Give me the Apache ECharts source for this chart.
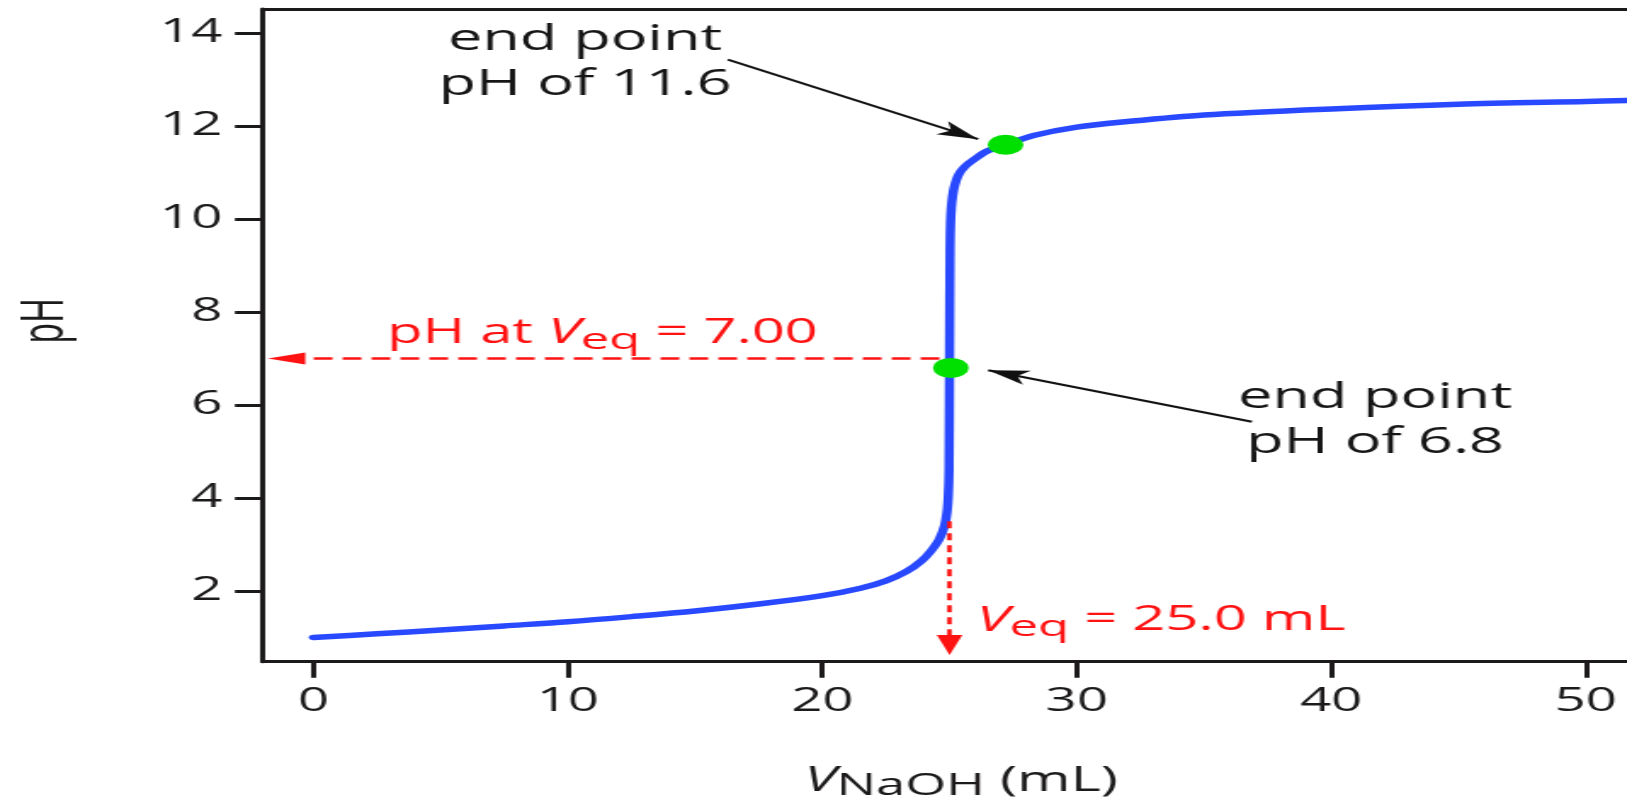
<!DOCTYPE html>
<html>
<head>
<meta charset="utf-8">
<script src="https://cdn.jsdelivr.net/npm/echarts@6/dist/echarts.min.js"></script>
<style>
html,body{margin:0;padding:0;background:#fff;overflow:hidden;width:1627px;height:797px;}
#chart{position:absolute;left:0;top:0;height:797px;transform-origin:0 0;}
</style>
</head>
<body>
<div id="chart"></div>
<script>
// ---------------- data ----------------
const volumes = [0, 2.5, 5, 7.5, 10, 12.5, 15, 17.5, 20, 21.5, 22.5, 23.3, 23.9, 24.3,
  24.6, 24.8, 24.9, 24.95, 24.98, 25.0, 25.02, 25.04, 25.07, 25.12, 25.2, 25.35, 25.6,
  26.0, 26.5, 27.2, 28.3, 30, 32, 35, 40, 45, 50, 51.6];
const pHValues = [1.00, 1.08, 1.16, 1.25, 1.34, 1.45, 1.57, 1.72, 1.90, 2.06, 2.22, 2.42, 2.65, 2.88,
  3.12, 3.40, 3.70, 4.05, 4.60, 7.00, 9.40, 9.95, 10.25, 10.50, 10.72, 10.95, 11.13,
  11.30, 11.47, 11.60, 11.80, 11.98, 12.10, 12.24, 12.37, 12.47, 12.53, 12.55];
const endPointVolumes = [27.2, 25.05];
const endPointPH = [11.6, 6.8];
const xTickValues = [0, 10, 20, 30, 40, 50];
const yTickValues = [2, 4, 6, 8, 10, 12, 14];
const equivalenceVolume = 25.0;
const equivalencePH = 7.0;

// ---------------- layout ----------------
const S = 1.7;                 // the reference picture is stretched horizontally
const W = 1627 / S, H = 797;
const el = document.getElementById('chart');
el.style.width = W + 'px';
el.style.transform = 'scaleX(' + S + ')';
const chart = echarts.init(el, null, {renderer: 'canvas', width: W, height: H});

const FONT = '"Open Sans", "DejaVu Sans", sans-serif';
const INK = '#1c1a1b';
const BLUE = '#2849ff';
const GREEN = '#00e000';
const RED = '#ff1212';

// annotation geometry (data coordinates)
const arrows = [
  {from: [16.29, 13.43], to: [26.12, 11.72], color: '#111', width: 2, dash: 'solid', symbol: 'arrow', size: [11, 24]},
  {from: [36.88, 5.64], to: [26.52, 6.75], color: '#111', width: 2, dash: 'solid', symbol: 'arrow', size: [11, 24]},
  {from: [24.6, equivalencePH], to: [-1.05, equivalencePH], color: RED, width: 2.5, dash: [11, 6], symbol: 'triangle', size: [12, 22]},
  {from: [equivalenceVolume, 3.5], to: [equivalenceVolume, 0.84], color: RED, width: 2.6, dash: [7, 5], symbol: 'triangle', size: [15, 20]}
];
const notes = [
  {text: 'end point\npH of 11.6', at: [10.68, 13.37]},
  {text: 'end point\npH of 6.8', at: [41.72, 5.67]}
];
const redNotes = [
  {text: '{n|pH at }{v|V}{s|eq}{n| = 7.00}', at: [11.36, 7.54]},
  {text: '{v|V}{s|eq}{n| = 25.0 mL}', at: [33.31, 1.36]}
];

function build() {
  const curve = volumes.map((v, i) => [v, pHValues[i]]);
  const dots = endPointVolumes.map((v, i) => [v, endPointPH[i]]);
  const series = [
    {
      type: 'line', name: 'titration', data: curve, showSymbol: false, symbol: 'none',
      smooth: 0.3, silent: true, z: 3,
      lineStyle: {color: BLUE, width: 5.5, cap: 'round', join: 'round'}
    },
    {
      type: 'scatter', name: 'end points', data: dots, symbol: 'circle', symbolSize: [21, 20],
      itemStyle: {color: GREEN, opacity: 1}, silent: true, z: 5
    }
  ];
  arrows.forEach((a, k) => {
    series.push({
      type: 'line', name: 'arrow' + k, data: [], silent: true, z: 4,
      markLine: {
        silent: true, animation: false,
        symbol: ['none', a.symbol], symbolSize: a.size,
        label: {show: false}, emphasis: {disabled: true},
        itemStyle: {color: a.color},
        lineStyle: {color: a.color, width: a.width, type: a.dash, opacity: 1, cap: 'butt'},
        data: [[{coord: a.from}, {coord: a.to}]]
      }
    });
  });

  const option = {
    animation: false,
    backgroundColor: '#ffffff',
    grid: {left: 263 / S, right: 0, top: 9, bottom: 135.3, containLabel: false, outerBoundsMode: 'none'},
    xAxis: [
      {
        type: 'value', position: 'bottom', min: -1.976, max: 51.62,
        name: '{v|V}{s|NaOH}{n| (mL)}', nameLocation: 'middle', nameGap: 100,
        nameTextStyle: {
          fontFamily: FONT, fontSize: 33, color: INK, lineHeight: 40, padding: [0, 0, 0, 19],
          rich: {
            v: {fontFamily: FONT, fontStyle: 'italic', fontSize: 34, color: INK, lineHeight: 40, verticalAlign: 'middle'},
            s: {fontFamily: FONT, fontSize: 31, color: INK, lineHeight: 24, verticalAlign: 'bottom'},
            n: {fontFamily: FONT, fontSize: 34, color: INK, lineHeight: 40, verticalAlign: 'middle'}
          }
        },
        axisLine: {show: true, onZero: false, lineStyle: {color: INK, width: 3}},
        axisTick: {show: true, inside: false, length: 16, customValues: xTickValues, lineStyle: {color: INK, width: 3}},
        axisLabel: {show: true, customValues: xTickValues, margin: 24, fontFamily: FONT, fontSize: 32, color: INK},
        splitLine: {show: false}
      },
      {
        type: 'value', position: 'top', min: -1.976, max: 51.62,
        axisLine: {show: true, onZero: false, lineStyle: {color: INK, width: 3}},
        axisTick: {show: false}, axisLabel: {show: false}, splitLine: {show: false}
      }
    ],
    yAxis: {
      type: 'value', min: 0.48, max: 14.52,
      name: 'pH', nameLocation: 'middle', nameGap: 110,
      nameTextStyle: {fontFamily: FONT, fontSize: 34, color: INK, lineHeight: 34, padding: [0, 0, 0, 29]},
      axisLine: {show: true, onZero: false, lineStyle: {color: INK, width: 3}},
      axisTick: {show: true, inside: false, length: 16.5, customValues: yTickValues, lineStyle: {color: INK, width: 3}},
      axisLabel: {show: true, customValues: yTickValues, margin: 24, fontFamily: FONT, fontSize: 32, color: INK},
      splitLine: {show: false}
    },
    series: series
  };
  chart.setOption(option, true);

  const P = (c) => chart.convertToPixel({xAxisIndex: 0, yAxisIndex: 0}, c);
  const graphics = [];
  notes.forEach((n) => {
    const p = P(n.at);
    graphics.push({
      type: 'text', x: p[0], y: p[1], silent: true, z: 10,
      style: {text: n.text, fill: '#161616', fontFamily: FONT, fontSize: 36, lineHeight: 45,
        align: 'center', verticalAlign: 'middle'}
    });
  });
  redNotes.forEach((n) => {
    const p = P(n.at);
    graphics.push({
      type: 'text', x: p[0], y: p[1], silent: true, z: 10,
      style: {
        text: n.text, fill: RED, fontFamily: FONT, fontSize: 34, align: 'center', verticalAlign: 'middle',
        rich: {
          n: {fill: RED, fontFamily: FONT, fontSize: 34, lineHeight: 44, verticalAlign: 'middle'},
          v: {fill: RED, fontFamily: FONT, fontSize: 35, fontStyle: 'italic', lineHeight: 44, verticalAlign: 'middle'},
          s: {fill: RED, fontFamily: FONT, fontSize: 30, lineHeight: 26, verticalAlign: 'bottom'}
        }
      }
    });
  });
  chart.setOption({graphic: graphics});
}

build();
if (document.fonts && document.fonts.load) {
  document.fonts.load('32px "Open Sans"').then(build).catch(function () {});
}
</script>
</body>
</html>
